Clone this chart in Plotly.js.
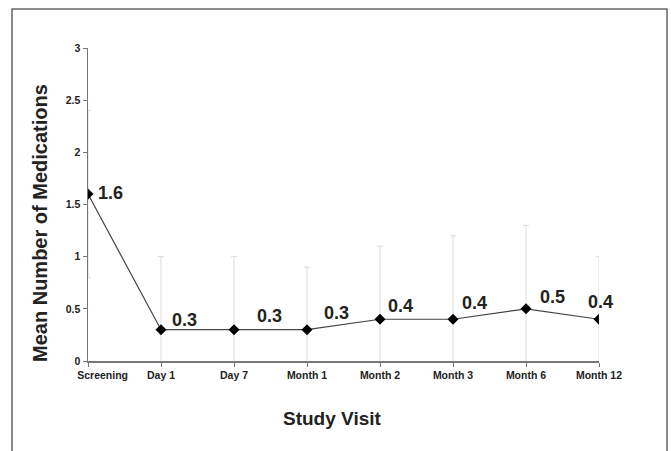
<!DOCTYPE html>
<html>
<head>
<meta charset="utf-8">
<script src="https://cdn.plot.ly/plotly-3.0.1.min.js"></script>
<style>
  html, body { margin: 0; padding: 0; background: #fff; }
  #chart { width: 671px; height: 451px; }
</style>
</head>
<body>
<div id="chart"></div>
<script>
// ---- data ----
const visits = ["Screening", "Day 1", "Day 7", "Month 1", "Month 2", "Month 3", "Month 6", "Month 12"];
const meanMeds = [1.6, 0.3, 0.3, 0.3, 0.4, 0.4, 0.5, 0.4];
const sdMeds = [0.8, 0.7, 0.7, 0.6, 0.7, 0.8, 0.8, 0.6];
const yTickVals = [0, 0.5, 1, 1.5, 2, 2.5, 3];
const yTickText = ["0", "0.5", "1", "1.5", "2", "2.5", "3"];

// ---- style (label offsets in px) ----
const labelDx = [22, 23, 35, 29, 20, 21, 26, 1];
const labelDy = [1, 10, 14, 17, 13, 16, 12, 17];
const FONT = '"Liberation Sans", Arial, Helvetica, sans-serif';

const xIdx = visits.map((v, i) => i);

const trace = {
  x: xIdx,
  y: meanMeds,
  type: 'scatter',
  mode: 'lines+markers',
  line: { color: '#444', width: 1.2 },
  marker: { symbol: 'diamond', size: 8.5, color: '#000' },
  error_y: { type: 'data', array: sdMeds, symmetric: true, color: '#dcdcdc', thickness: 1, width: 3 },
  hoverinfo: 'skip',
  cliponaxis: true
};

const annotations = meanMeds.map((v, i) => ({
  x: xIdx[i], y: v, xref: 'x', yref: 'y',
  text: v.toFixed(1), showarrow: false,
  xanchor: 'center', yanchor: 'middle',
  xshift: labelDx[i], yshift: labelDy[i],
  font: { family: FONT, size: 18, color: '#222', weight: 'bold' }
}));

annotations.push({
  xref: 'paper', yref: 'paper', x: -0.0939, y: 0.441,
  xanchor: 'center', yanchor: 'middle',
  text: 'Mean Number of Medications', textangle: -90, showarrow: false,
  font: { family: FONT, size: 20, color: '#222', weight: 'bold' }
});
annotations.push({
  xref: 'paper', yref: 'paper', x: 0.4775, y: -0.1853,
  xanchor: 'center', yanchor: 'middle',
  text: 'Study Visit', showarrow: false,
  font: { family: FONT, size: 19, color: '#222', weight: 'bold' }
});

const layout = {
  width: 671, height: 451,
  margin: { l: 88, r: 72, t: 48, b: 90 },
  paper_bgcolor: '#fff', plot_bgcolor: '#fff',
  showlegend: false,
  xaxis: {
    range: [0, visits.length - 1],
    tickvals: xIdx,
    ticktext: visits.map((v, i) => i === 0 ? '\u00a0\u00a0\u00a0\u00a0\u00a0\u00a0\u00a0\u00a0\u00a0\u00a0' + v : v),
    showgrid: false, zeroline: false,
    showline: true, linecolor: '#777', linewidth: 1.5,
    ticks: 'outside', ticklen: 4, tickcolor: '#777',
    tickfont: { family: FONT, size: 10.5, color: '#222', weight: 'bold' },
    fixedrange: true
  },
  yaxis: {
    range: [0, 3],
    tickvals: yTickVals, ticktext: yTickText,
    showgrid: false, zeroline: false,
    showline: true, linecolor: '#777', linewidth: 1.5,
    ticks: 'outside', ticklen: 4, tickcolor: '#777',
    tickfont: { family: FONT, size: 10.5, color: '#222', weight: 'bold' },
    fixedrange: true
  },
  annotations: annotations,
  shapes: [{
    type: 'rect', xref: 'paper', yref: 'paper',
    x0: (12 - 88) / 511, x1: (667 - 88) / 511,
    y0: (361 - 480) / 313, y1: (361 - 9) / 313,
    line: { color: '#666', width: 1.5 }, fillcolor: 'rgba(0,0,0,0)', layer: 'below'
  }]
};

Plotly.newPlot('chart', [trace], layout, { displayModeBar: false, staticPlot: true });
</script>
</body>
</html>
